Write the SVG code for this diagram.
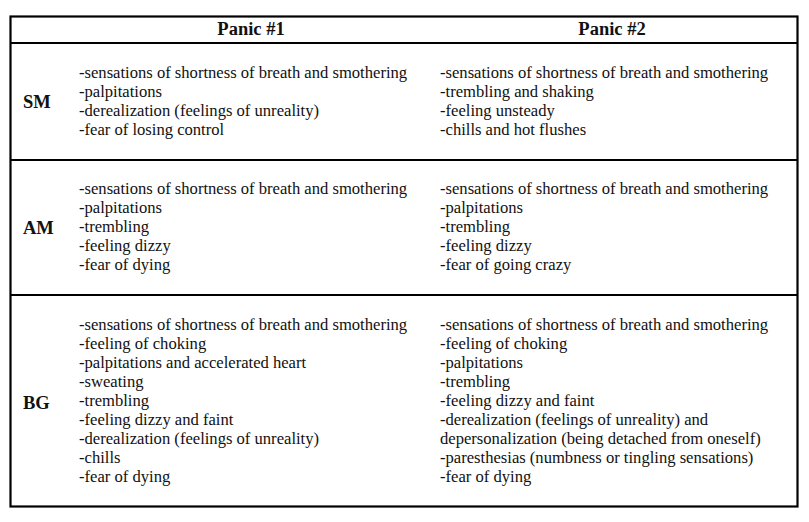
<svg xmlns="http://www.w3.org/2000/svg" width="809" height="522" viewBox="0 0 809 522">
<style>
text{font-family:"Liberation Serif",serif;fill:#111}
.t{font-size:16.6px}
.b{font-size:18.5px;font-weight:bold}
.h{font-size:18.5px;font-weight:bold;text-anchor:middle}
line{stroke:#000;stroke-width:2}
</style>
<rect width="809" height="522" fill="#fff"/>
<g id="grid">
<rect x="10.5" y="16.5" width="787" height="490" fill="none" stroke="#000" stroke-width="2.2"/>
<line x1="10" y1="43" x2="798" y2="43"/>
<line x1="10" y1="160" x2="798" y2="160"/>
<line x1="10" y1="295" x2="798" y2="295"/>
</g>
<g id="header">
<text class="h" x="251" y="35">Panic #1</text>
<text class="h" x="612" y="35">Panic #2</text>
</g>
<g id="SM">
<text class="b" x="23" y="108">SM</text>
<text class="t" x="79" y="78">-sensations of shortness of breath and smothering</text>
<text class="t" x="79" y="97">-palpitations</text>
<text class="t" x="79" y="116">-derealization (feelings of unreality)</text>
<text class="t" x="79" y="135">-fear of losing control</text>
<text class="t" x="440" y="78">-sensations of shortness of breath and smothering</text>
<text class="t" x="440" y="97">-trembling and shaking</text>
<text class="t" x="440" y="116">-feeling unsteady</text>
<text class="t" x="440" y="135">-chills and hot flushes</text>
</g>
<g id="AM">
<text class="b" x="23" y="234">AM</text>
<text class="t" x="79" y="194">-sensations of shortness of breath and smothering</text>
<text class="t" x="79" y="213">-palpitations</text>
<text class="t" x="79" y="232">-trembling</text>
<text class="t" x="79" y="251">-feeling dizzy</text>
<text class="t" x="79" y="270">-fear of dying</text>
<text class="t" x="440" y="194">-sensations of shortness of breath and smothering</text>
<text class="t" x="440" y="213">-palpitations</text>
<text class="t" x="440" y="232">-trembling</text>
<text class="t" x="440" y="251">-feeling dizzy</text>
<text class="t" x="440" y="270">-fear of going crazy</text>
</g>
<g id="BG">
<text class="b" x="23" y="409">BG</text>
<text class="t" x="79" y="330">-sensations of shortness of breath and smothering</text>
<text class="t" x="79" y="349">-feeling of choking</text>
<text class="t" x="79" y="368">-palpitations and accelerated heart</text>
<text class="t" x="79" y="387">-sweating</text>
<text class="t" x="79" y="406">-trembling</text>
<text class="t" x="79" y="425">-feeling dizzy and faint</text>
<text class="t" x="79" y="444">-derealization (feelings of unreality)</text>
<text class="t" x="79" y="463">-chills</text>
<text class="t" x="79" y="482">-fear of dying</text>
<text class="t" x="440" y="330">-sensations of shortness of breath and smothering</text>
<text class="t" x="440" y="349">-feeling of choking</text>
<text class="t" x="440" y="368">-palpitations</text>
<text class="t" x="440" y="387">-trembling</text>
<text class="t" x="440" y="406">-feeling dizzy and faint</text>
<text class="t" x="440" y="425">-derealization (feelings of unreality) and</text>
<text class="t" x="440" y="444">depersonalization (being detached from oneself)</text>
<text class="t" x="440" y="463">-paresthesias (numbness or tingling sensations)</text>
<text class="t" x="440" y="482">-fear of dying</text>
</g>
</svg>
